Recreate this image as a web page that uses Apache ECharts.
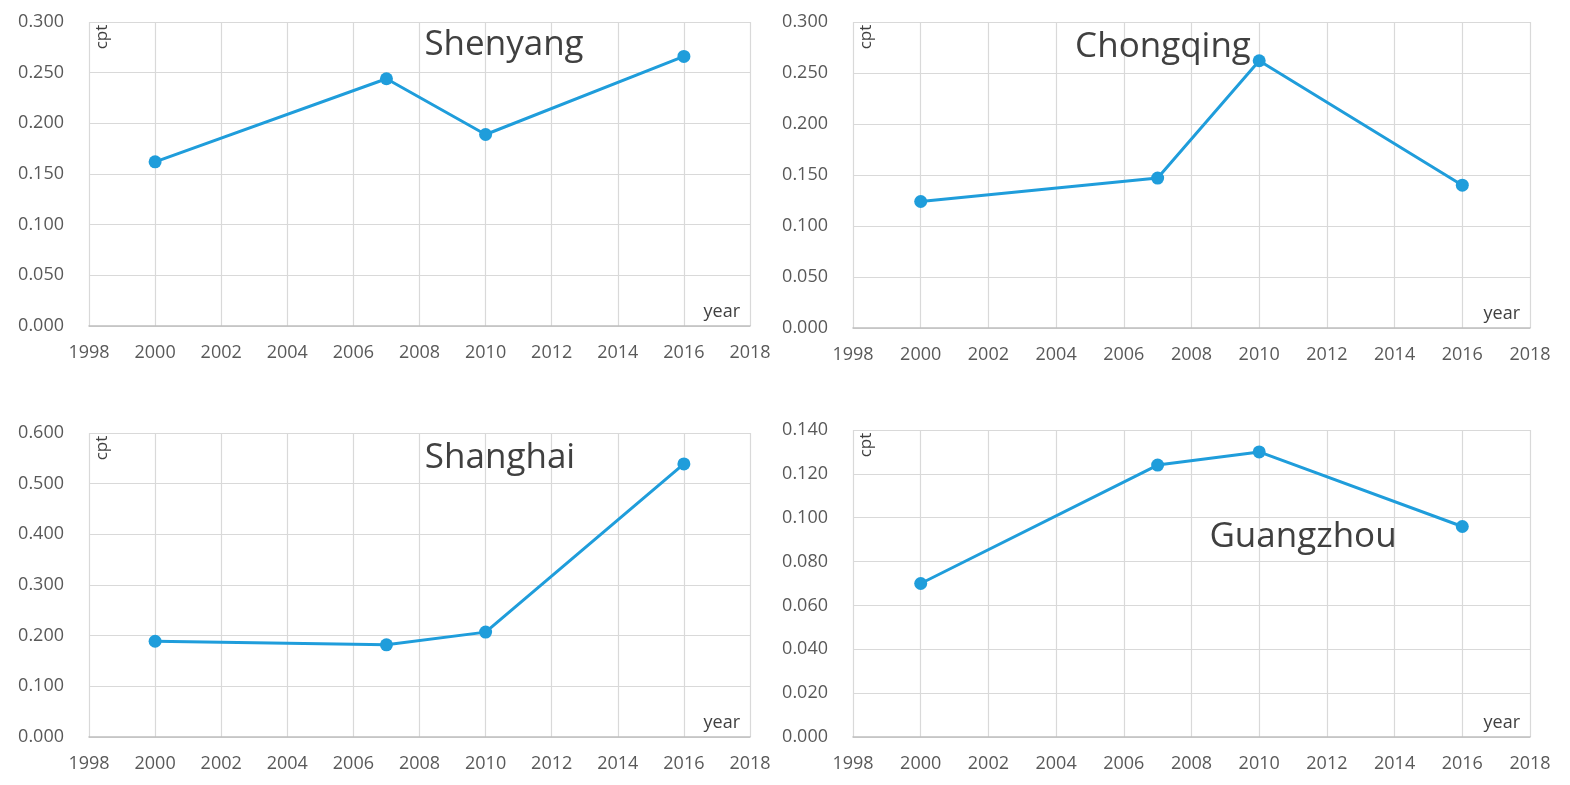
<!DOCTYPE html>
<html>
<head>
<meta charset="utf-8">
<script src="https://cdn.jsdelivr.net/npm/echarts@6/dist/echarts.min.js"></script>
<style>
html,body{margin:0;padding:0;background:#fff;}
#chart{width:1570px;height:785px;}
</style>
</head>
<body>
<div id="chart"></div>
<script>
// ---- data ----
const cities = ["Shenyang", "Chongqing", "Shanghai", "Guangzhou"];
const years = [2000, 2007, 2010, 2016];
const shenyang = [0.162, 0.244, 0.189, 0.266];
const chongqing = [0.124, 0.147, 0.262, 0.140];
const shanghai = [0.189, 0.182, 0.207, 0.539];
const guangzhou = [0.070, 0.124, 0.130, 0.096];
const yMax = [0.3, 0.3, 0.6, 0.14];
const yStep = [0.05, 0.05, 0.1, 0.02];
const xMin = 1998, xMax = 2018, xStep = 2;
const xName = "year", yName = "cpt";

const seriesValues = [shenyang, chongqing, shanghai, guangzhou];

// ---- layout ----
const grids = [
  {left: 89, right: 820, top: 22, bottom: 459},
  {left: 853, right: 40, top: 22, bottom: 457},
  {left: 89, right: 820, top: 433, bottom: 48},
  {left: 853, right: 40, top: 430, bottom: 48}
];
const titlePos = [
  {x: 504, y: 45},
  {x: 1163, y: 47},
  {x: 500, y: 458},
  {x: 1303, y: 537}
];
const W = 1570, H = 785;
const blue = "#1f9ddb";
const labelFont = "'Open Sans', 'Liberation Sans', sans-serif";

const chart = echarts.init(document.getElementById('chart'), null, {renderer: 'canvas'});

const option = {
  backgroundColor: '#fff',
  animation: false,
  grid: grids.map(g => Object.assign({containLabel: false}, g)),
  xAxis: grids.map((g, i) => ({
    type: 'value', gridIndex: i, min: xMin, max: xMax, interval: xStep,
    axisLine: {show: true, lineStyle: {color: '#bfbfbf', width: 1.5}},
    axisTick: {show: false},
    axisLabel: {color: '#595959', fontSize: 18, fontFamily: labelFont, margin: 18,
      formatter: v => String(v)},
    splitLine: {show: true, lineStyle: {color: '#d9d9d9', width: 1.2}}
  })),
  yAxis: grids.map((g, i) => ({
    type: 'value', gridIndex: i, min: 0, max: yMax[i], interval: yStep[i],
    axisLine: {show: false},
    axisTick: {show: false},
    axisLabel: {color: '#595959', fontSize: 18, fontFamily: labelFont, margin: 25,
      formatter: v => v.toFixed(3)},
    splitLine: {show: true, lineStyle: {color: '#d9d9d9', width: 1.2}}
  })),
  series: seriesValues.map((vals, i) => ({
    type: 'line', xAxisIndex: i, yAxisIndex: i,
    data: years.map((y, k) => [y, vals[k]]),
    symbol: 'circle', symbolSize: 13,
    lineStyle: {color: blue, width: 3},
    itemStyle: {color: blue},
    z: 5
  })),
  graphic: [].concat(
    cities.map((c, i) => ({
      type: 'text', x: titlePos[i].x, y: titlePos[i].y,
      style: {text: c, fill: '#404040', font: "35px 'Open Sans', sans-serif",
        align: 'center', verticalAlign: 'middle'}, z: 10
    })),
    grids.map((g) => ({
      type: 'text', x: g.left + 13, y: g.top + 15, rotation: Math.PI / 2,
      style: {text: yName, fill: '#404040', font: "17px 'Open Sans', sans-serif",
        align: 'center', verticalAlign: 'middle'}, z: 10
    })),
    grids.map((g) => ({
      type: 'text', x: W - g.right - 10, y: H - g.bottom - 14,
      style: {text: xName, fill: '#404040', font: "18px 'Open Sans', sans-serif",
        align: 'right', verticalAlign: 'middle'}, z: 10
    }))
  )
};
chart.setOption(option);
</script>
</body>
</html>
